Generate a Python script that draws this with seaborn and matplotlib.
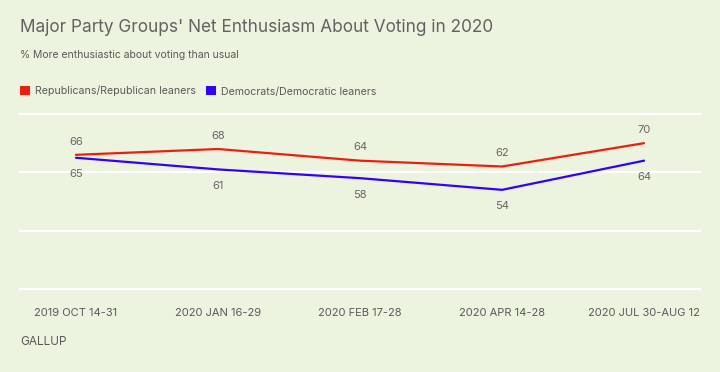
import matplotlib
matplotlib.use("Agg")
import matplotlib.pyplot as plt
from matplotlib.patches import Patch
import seaborn as sns
import pandas as pd

# ---- data ----
periods = ["2019 OCT 14-31", "2020 JAN 16-29", "2020 FEB 17-28",
           "2020 APR 14-28", "2020 JUL 30-AUG 12"]
rep_values = [66, 68, 64, 62, 70]
dem_values = [65, 61, 58, 54, 64]
series_names = ["Republicans/Republican leaners", "Democrats/Democratic leaners"]
y_ticks = [20, 40, 60, 80]

title = "Major Party Groups' Net Enthusiasm About Voting in 2020"
subtitle = "% More enthusiastic about voting than usual"
source = "GALLUP"

# ---- style ----
bg = "#ECF3DE"
colors = ["#EE1E0E", "#3300FF"]
txt = "#5a5a5a"

sns.set_theme(style="white")
plt.rcParams['font.family'] = ['Inter', 'DejaVu Sans']

df = pd.DataFrame({
    "x": list(range(len(periods))) * 2,
    "value": rep_values + dem_values,
    "group": [series_names[0]] * len(periods) + [series_names[1]] * len(periods),
})

fig = plt.figure(figsize=(7.2, 3.72), dpi=100, facecolor=bg)
ax = fig.add_axes([20 / 720, 1 - 289 / 372, 680 / 720, 175 / 372])
ax.set_facecolor(bg)

sns.lineplot(data=df, x="x", y="value", hue="group", hue_order=series_names,
             palette=colors, linewidth=1.6, legend=False, ax=ax)

ax.set_ylim(20, 80)
ax.set_xlim(-0.394, len(periods) - 1 + 0.394)
ax.set_yticks(y_ticks)
ax.grid(axis="y", color="white", linewidth=1.6)
ax.grid(axis="x", visible=False)
for gl in ax.get_ygridlines():
    gl.set_clip_on(False)
ax.tick_params(axis="y", length=0, labelleft=False)
ax.set_xticks(range(len(periods)))
ax.set_xticklabels(periods)
ax.tick_params(axis="x", length=7, width=1.6, color="white", direction="out",
               pad=7, labelsize=8, labelcolor=txt)
for s in ax.spines.values():
    s.set_visible(False)
ax.set_xlabel("")
ax.set_ylabel("")

# value labels
for i, v in enumerate(rep_values):
    ax.annotate(str(v), (i, v), xytext=(0, 9.5), textcoords="offset points",
                ha="center", va="center", fontsize=8, color="#666666")
for i, v in enumerate(dem_values):
    ax.annotate(str(v), (i, v), xytext=(0, -12), textcoords="offset points",
                ha="center", va="center", fontsize=8, color="#666666")

# titles
fig.text(20 / 720, 1 - 27 / 372, title, ha="left", va="center",
         fontsize=12.4, color="#626262")
fig.text(20 / 720, 1 - 55 / 372, subtitle, ha="left", va="center",
         fontsize=7.5, color=txt)

# legend
handles = [Patch(facecolor=c, edgecolor="none") for c in colors]
fig.legend(handles, series_names, loc="upper left",
           bbox_to_anchor=(20 / 720, 1 - 86 / 372), ncol=2, frameon=False,
           fontsize=7.6, labelcolor=txt, handlelength=0.95, handleheight=0.95,
           handletextpad=0.45, columnspacing=0.95, borderpad=0, borderaxespad=0)

fig.text(20 / 720, 1 - 342 / 372, source, ha="left", va="center",
         fontsize=8.5, color=txt)

fig.savefig("out.png", dpi=100, facecolor=bg)
